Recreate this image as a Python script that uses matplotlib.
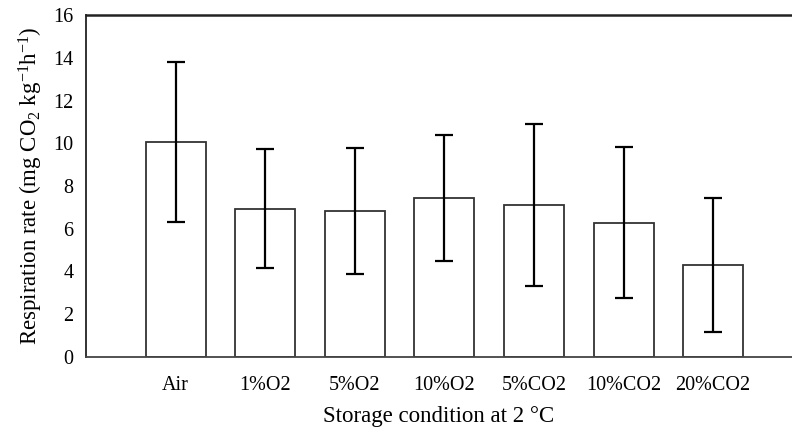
import matplotlib
matplotlib.use("Agg")
import matplotlib.pyplot as plt
import numpy as np

plt.rcParams['font.family'] = ['Liberation Serif', 'DejaVu Serif']
plt.rcParams['mathtext.fontset'] = 'custom'
plt.rcParams['mathtext.rm'] = 'Liberation Serif'
plt.rcParams['mathtext.default'] = 'regular'

# storage conditions and respiration rate (mean, error)
conditions = ["Air", "1%O2", "5%O2", "10%O2", "5%CO2", "10%CO2", "20%CO2"]
rate = [10.07, 6.94, 6.85, 7.45, 7.10, 6.28, 4.32]
err = [3.75, 2.80, 2.95, 2.95, 3.80, 3.54, 3.14]

fig = plt.figure(figsize=(7.92, 4.30), dpi=100)
ax = fig.add_axes([0.1086, 0.170, 0.8914, 0.795])

x = np.arange(1, len(conditions) + 1)
ax.bar(x, rate, width=0.67, color='white', edgecolor='#333333', linewidth=1.3, zorder=2)
ax.errorbar(x, rate, yerr=err, fmt='none', ecolor='black', elinewidth=1.6,
            capsize=6.5, capthick=1.6, zorder=3)

ax.set_xlim(0, 7.88)
ax.set_ylim(0, 16)
ax.set_yticks(range(0, 17, 2))
ax.set_xticks(x)
ax.set_xticklabels(conditions)
ax.tick_params(axis='both', length=0, labelsize=14.5)
ax.tick_params(axis='y', pad=9)
ax.tick_params(axis='x', pad=14)

ax.spines['right'].set_visible(False)
ax.spines['top'].set_linewidth(1.8)
ax.spines['top'].set_color('#222222')
ax.spines['left'].set_linewidth(1.3)
ax.spines['left'].set_color('#222222')
ax.spines['bottom'].set_linewidth(1.3)
ax.spines['bottom'].set_color('#444444')

ax.set_xlabel("Storage condition at 2 \u00b0C", fontsize=16.5, labelpad=8)
ax.set_ylabel("Respiration rate (mg CO$_2$ kg$^{-1}$h$^{-1}$)", fontsize=16.5, labelpad=6)

fig.savefig("out.png", dpi=100)
